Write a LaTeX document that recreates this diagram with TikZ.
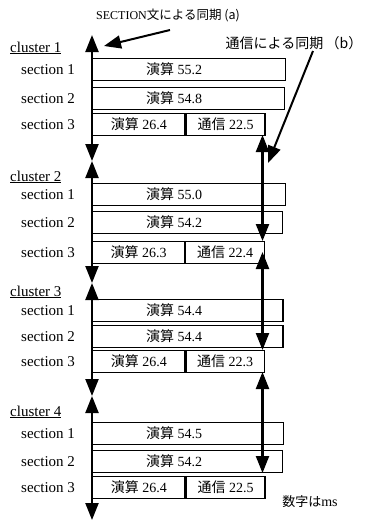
\documentclass[tikz,border=0pt]{standalone}
\usepackage{fontspec}
\setmainfont{Liberation Serif}
\newfontfamily\jp{Noto Sans CJK JP}
\usetikzlibrary{arrows.meta,calc}
\newcommand\clusterblock[9]{%
  \node[lab, anchor=west] (cl#1) at (10,#2) {\underline{cluster #1}};
  \node[box, minimum width={#6*3.5pt}] (c#1a) at (92,#3) {};
  \node[box, minimum width={#7*3.5pt}] (c#1b) at (92,#4) {};
  \node[box, minimum width={#8*3.5pt}] (c#1c) at (92,#5) {{\jp 演算} #8};
  \node[box, minimum width={#9*3.5pt}] (c#1d) at (c#1c.north east) {{\jp 通信} #9};
  \node[txt] (c#1at) at ($(c#1a.west)+(82,0)$) {{\jp 演算} #6};
  \node[txt] (c#1bt) at ($(c#1b.west)+(82,0)$) {{\jp 演算} #7};
  \node[lab, anchor=west] (c#1al) at ($(c#1a.west)+(-71,0)$) {section 1};
  \node[lab, anchor=west] (c#1bl) at ($(c#1b.west)+(-71,0)$) {section 2};
  \node[lab, anchor=west] (c#1cl) at ($(c#1c.west)+(-71,0)$) {section 3};
}
\begin{document}
\begin{tikzpicture}[x=1pt,y=-1pt,
  txt/.style={font=\fontsize{14}{15}\selectfont, inner sep=0pt},
  box/.style={draw, line width=1.2pt, inner sep=0pt, anchor=north west,
    minimum height=22pt, txt},
  lab/.style={font=\fontsize{15}{16}\selectfont, inner sep=0pt},
  sync/.style={line width=2.2pt,
    {Triangle[length=17pt,width=13pt]}-{Triangle[length=17pt,width=13pt]}},
  pointer/.style={line width=2pt, -{Triangle[length=17pt,width=13pt]}},
]
\useasboundingbox (0,0) rectangle (369,520);
\fill[white] (0,0) rectangle (369,520);

\clusterblock{1}{48}{58}{87}{113}{55.2}{54.8}{26.4}{22.5}
\clusterblock{2}{177}{183}{211}{241}{55.0}{54.2}{26.3}{22.4}
\clusterblock{3}{292}{299}{325}{350}{54.4}{54.4}{26.4}{22.3}
\clusterblock{4}{412}{422}{450}{476}{54.5}{54.2}{26.4}{22.5}

% SECTION synchronisation (left)
\coordinate (L0) at (92,35);
\coordinate (L1) at (92,161);
\coordinate (L2) at (92,283);
\coordinate (L3) at (92,396);
\coordinate (L4) at (92,520);
\draw[sync] (L0) -- (L1);
\draw[sync] (L1) -- (L2);
\draw[sync] (L2) -- (L3);
\draw[sync] (L3) -- (L4);

% communication synchronisation (right)
\coordinate (R1) at (262.5,135);
\coordinate (R2) at (262.5,241);
\coordinate (R3) at (262.5,252);
\coordinate (R4) at (262.5,350);
\coordinate (R5) at (262.5,372);
\coordinate (R6) at (262.5,473);
\draw[sync] (R1) -- (R2);
\draw[sync] (R3) -- (R4);
\draw[sync] (R5) -- (R6);

% labels
\node[inner sep=0pt] (siga) at (168,15)
  {{\fontsize{12}{13}\selectfont SECTION}{\jp\fontsize{12.5}{13}\selectfont 文による同期 (a)}};
\coordinate (pa0) at (170,30);
\coordinate (pa) at (104,46);
\draw[pointer] (pa0) -- (pa);

\node[inner sep=0pt] (sigb) at (294,43)
  {\jp\fontsize{14}{15}\selectfont 通信による同期\,（b）};
\coordinate (pb0) at (313,51);
\coordinate (pb) at (268,163);
\draw[pointer] (pb0) -- (pb);

\node[inner sep=0pt] (unit) at (310,502)
  {{\jp\fontsize{13}{14}\selectfont 数字は}{\fontsize{14}{15}\selectfont ms}};
\end{tikzpicture}
\end{document}
